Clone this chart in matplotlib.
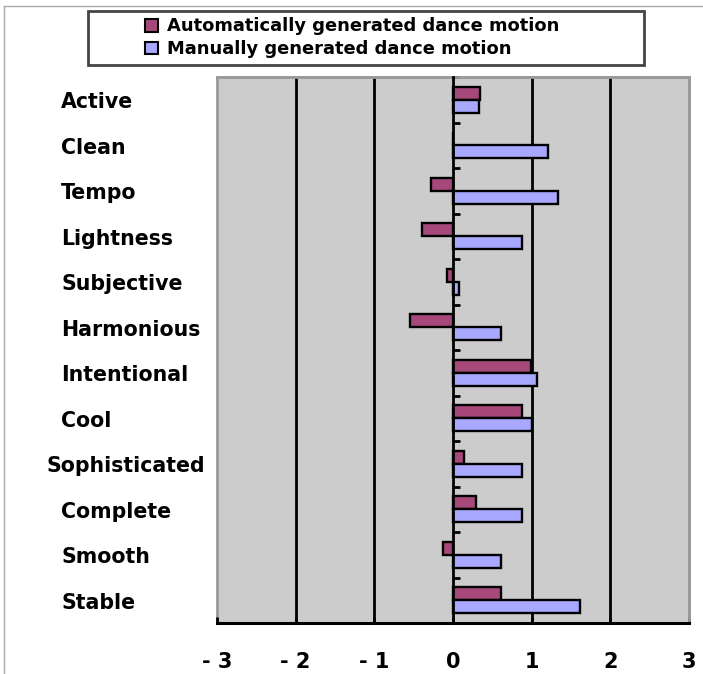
import matplotlib
matplotlib.use("Agg")
import matplotlib.pyplot as plt
from matplotlib.patches import Rectangle, Patch
from matplotlib.lines import Line2D
import numpy as np

categories = ["Active", "Clean", "Tempo", "Lightness", "Subjective", "Harmonious",
              "Intentional", "Cool", "Sophisticated", "Complete", "Smooth", "Stable"]
auto_vals = [0.34, 0.0, -0.28, -0.40, -0.07, -0.55, 0.99, 0.88, 0.14, 0.29, -0.13, 0.61]
manual_vals = [0.33, 1.21, 1.33, 0.88, 0.07, 0.61, 1.07, 1.00, 0.88, 0.88, 0.61, 1.61]
series_names = ["Automatically generated dance motion", "Manually generated dance motion"]
xtick_vals = [-3, -2, -1, 0, 1, 2, 3]
xtick_labels = ["- 3", "- 2", "- 1", "0", "1", "2", "3"]
grid_vals = [-2, -1, 1, 2]

c_auto = "#A6497A"
c_man = "#A8A8FF"
bg = "#CCCCCC"

W, H = 703, 674
fig = plt.figure(figsize=(W / 100, H / 100), dpi=100)
ax = fig.add_axes([217 / W, 1 - 623 / H, 472 / W, 546 / H])
ax.set_facecolor(bg)
ax.patch.set_edgecolor("#9A9A9A")
ax.patch.set_linewidth(2)

y = np.arange(len(categories))
bh = 0.28
ax.barh(y - 0.145, auto_vals, height=bh, color=c_auto, edgecolor="black", linewidth=1.7, zorder=3)
ax.barh(y + 0.145, manual_vals, height=bh, color=c_man, edgecolor="black", linewidth=1.7, zorder=3)

for g in grid_vals:
    ax.axvline(g, color="black", linewidth=2, zorder=2)

ax.set_xlim(-3, 3)
ax.set_ylim(len(categories) - 0.5, -0.5)

# spines
ax.spines["left"].set_position(("data", 0))
ax.spines["left"].set_color("black")
ax.spines["left"].set_linewidth(2)
ax.spines["left"].set_zorder(4)
ax.spines["bottom"].set_color("black")
ax.spines["bottom"].set_linewidth(2.2)
for s in ["top", "right"]:
    ax.spines[s].set_color("#9A9A9A")
    ax.spines[s].set_linewidth(2)

ax.set_yticks(np.arange(-0.5, len(categories) - 1, 1.0))
ax.set_yticklabels([])
ax.tick_params(axis="y", direction="in", length=5, width=2, color="black")

ax.set_xticks(xtick_vals)
ax.set_xticklabels(xtick_labels, fontsize=15, fontweight="bold")
ax.tick_params(axis="x", direction="in", length=4, width=2, pad=21)

for i, name in enumerate(categories):
    xpos = -0.362 if name == "Sophisticated" else -0.330
    ax.text(xpos, i + 0.06, name, transform=ax.get_yaxis_transform(),
            ha="left", va="center", fontsize=14.8, fontweight="bold")

# legend box
fig.patches.append(Rectangle((88 / W, 1 - 65 / H), (644 - 88) / W, (65 - 11) / H,
                             transform=fig.transFigure, facecolor="white",
                             edgecolor="#444444", linewidth=2, zorder=1))
handles = [Patch(facecolor=c_auto, edgecolor="black", linewidth=1.5),
           Patch(facecolor=c_man, edgecolor="black", linewidth=1.5)]
leg = fig.legend(handles, series_names, loc="upper left",
                 bbox_to_anchor=(140 / W, 1 - 12 / H), frameon=False,
                 prop={"size": 12.9, "weight": "bold"},
                 handlelength=0.72, handleheight=0.72, handletextpad=0.5,
                 labelspacing=0.27, borderpad=0.3, borderaxespad=0)
leg.set_zorder(5)

# outer figure frame (top and left edges only)
fig.add_artist(Line2D([4 / W, 1.0], [1 - 6 / H, 1 - 6 / H], transform=fig.transFigure,
                      color="#AAAAAA", linewidth=1))
fig.add_artist(Line2D([4 / W, 4 / W], [0.0, 1 - 6 / H], transform=fig.transFigure,
                      color="#AAAAAA", linewidth=1))

fig.savefig("out.png", dpi=100)
